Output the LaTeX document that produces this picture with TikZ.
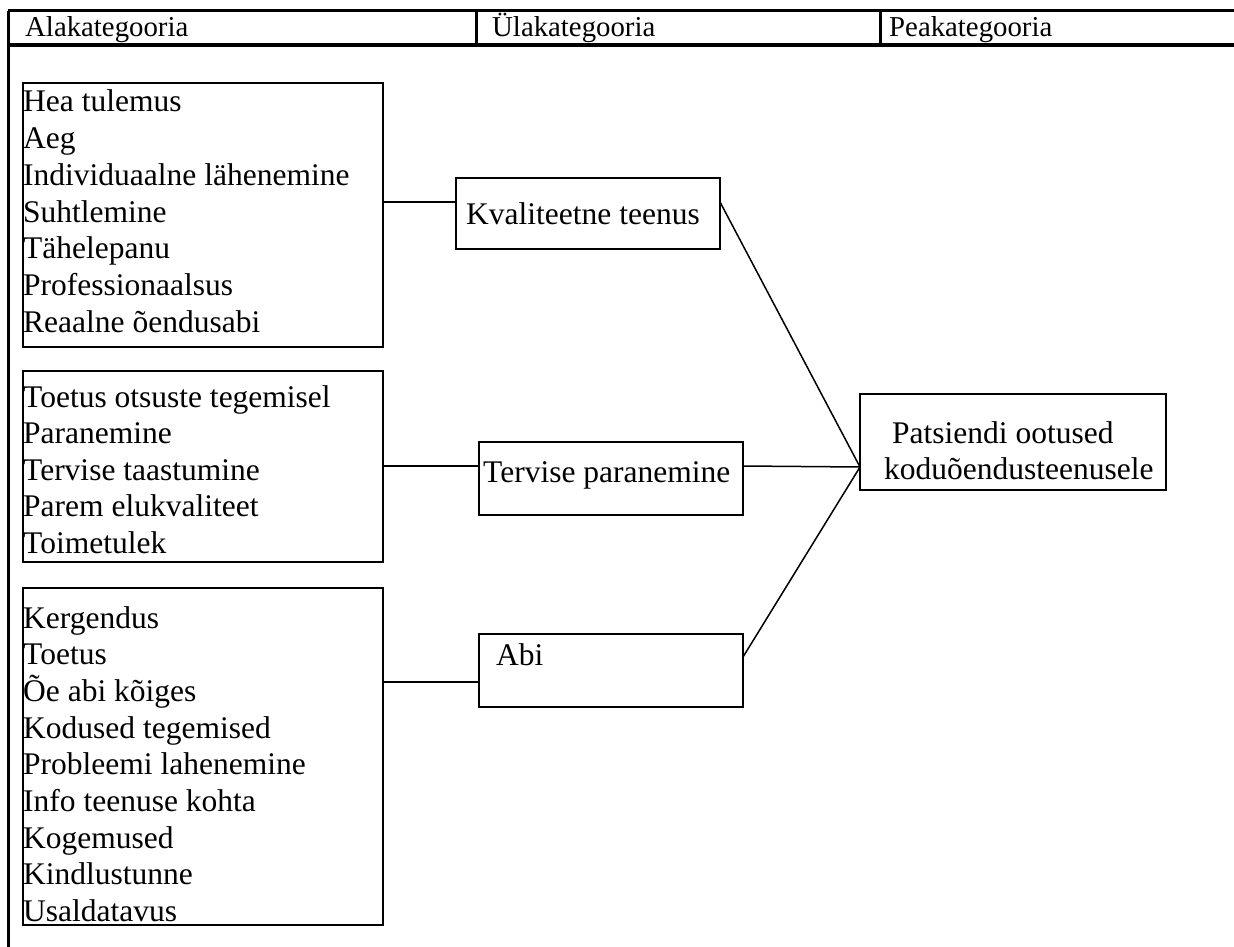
\documentclass[tikz,border=0pt]{standalone}
\usepackage{fontspec}
\setmainfont{Liberation Serif}
\begin{document}
\begin{tikzpicture}[x=1pt,y=-1pt,
  tbl/.style={line width=3pt},
  catbox/.style={draw, line width=2pt, rectangle, inner sep=0pt, outer sep=0pt, anchor=north west},
  conn/.style={line width=1.5pt},
  body/.style={font=\fontsize{31.5}{36.7}\selectfont, inner sep=0pt, anchor=base west},
  head/.style={font=\fontsize{28.8}{34}\selectfont, inner sep=0pt, anchor=base west}]
\useasboundingbox (0,0) rectangle (1234,947);
% table frame
\coordinate (tl) at (8,11);
\coordinate (tr) at (1236,11);
\coordinate (hl) at (8,45);
\coordinate (hr) at (1236,45);
\coordinate (bl) at (8,949);
\coordinate (c1t) at (476,11);
\coordinate (c1b) at (476,45);
\coordinate (c2t) at (880,11);
\coordinate (c2b) at (880,45);
\draw[tbl] (tl) -- (tr);
\draw[line width=3.5pt] (hl) -- (hr);
\draw[tbl] (tl) -- (bl);
\draw[tbl] (c1t) -- (c1b);
\draw[tbl] (c2t) -- (c2b);
\node[head] (h1) at (25,37) {Alakategooria};
\node[head] (h2) at (492,37) {Ülakategooria};
\node[head] (h3) at (889,37) {Peakategooria};
% list boxes
\node[catbox, minimum width=360pt, minimum height=264pt] (L1) at (23,83) {};
\node[catbox, minimum width=360pt, minimum height=191pt] (L2) at (23,371) {};
\node[catbox, minimum width=360pt, minimum height=337pt] (L3) at (23,588) {};
\foreach \t [count=\i from 0] in {Hea tulemus,Aeg,Individuaalne lähenemine,Suhtlemine,Tähelepanu,Professionaalsus,Reaalne õendusabi}
  \node[body] (a\i) at (23,112+36.7*\i) {\t};
\foreach \t [count=\i from 0] in {Toetus otsuste tegemisel,Paranemine,Tervise taastumine,Parem elukvaliteet,Toimetulek}
  \node[body] (b\i) at (23,407+36.6*\i) {\t};
\foreach \t [count=\i from 0] in {Kergendus,Toetus,Õe abi kõiges,Kodused tegemised,Probleemi lahenemine,Info teenuse kohta,Kogemused,Kindlustunne,Usaldatavus}
  \node[body] (c\i) at (23,628+36.7*\i) {\t};
% middle boxes
\node[catbox, minimum width=264pt, minimum height=71pt] (K) at (456,178) {};
\node[body] (Kt) at (466,224) {Kvaliteetne teenus};
\node[catbox, minimum width=264pt, minimum height=73pt] (T) at (479,442) {};
\node[body] (Tt) at (483,482) {Tervise paranemine};
\node[catbox, minimum width=264pt, minimum height=73pt] (A) at (479,634) {};
\node[body] (At) at (496,665) {Abi};
% right box
\node[catbox, minimum width=306pt, minimum height=96pt] (P) at (860,394) {};
\node[body] (Pt1) at (892,443) {Patsiendi ootused};
\node[body] (Pt2) at (884,479) {koduõendusteenusele};
% connectors
\coordinate (pin) at (860,467);
\draw[conn] (L1.east |- 0,202) -- (K.west |- 0,202);
\draw[conn] (L2.east |- 0,466) -- (T.west |- 0,466);
\draw[conn] (L3.east |- 0,682) -- (A.west |- 0,682);
\draw[conn] (K.east |- 0,202) -- (pin);
\draw[conn] (T.east |- 0,466) -- (pin);
\draw[conn] (A.east |- 0,657) -- (pin);
\end{tikzpicture}
\end{document}
